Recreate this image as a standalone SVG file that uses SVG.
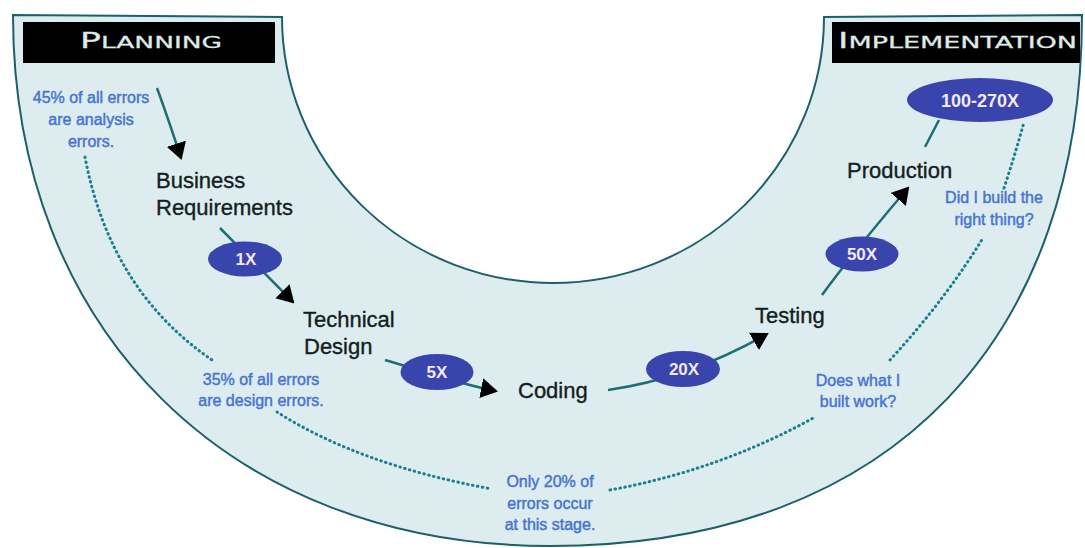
<svg xmlns="http://www.w3.org/2000/svg" width="1085" height="548" viewBox="0 0 1085 548">
  <defs>
    <marker id="arrow" viewBox="0 0 17 20" refX="15" refY="10" markerWidth="17" markerHeight="20" markerUnits="userSpaceOnUse" orient="auto">
      <path d="M0,0 L17,10 L0,20 Z" fill="#000"/>
    </marker>
    <style>
      .ring { fill: #ddedef; stroke: #1d5f6a; stroke-width: 2; }
      .hdr-box { fill: #000; }
      .hdr { font-family: "DejaVu Sans", sans-serif; fill: #e2ebe9; stroke: #cfe0de; stroke-width: 0.3; }
      .node { font-family: "Liberation Sans", Arial, sans-serif; font-size: 22px; fill: #142020; stroke: #142020; stroke-width: 0.35; }
      .note { font-family: "Liberation Sans", Arial, sans-serif; font-size: 16px; fill: #4874d0; stroke: #4874d0; stroke-width: 0.45; text-anchor: middle; }
      .badge ellipse { fill: #3a44ad; }
      .badge text { font-family: "Liberation Sans", Arial, sans-serif; font-weight: bold; font-size: 17px; fill: #f1eaf5; text-anchor: middle; }
      .link { fill: none; stroke: #1f6e76; stroke-width: 2.5; }
      .dots { fill: none; stroke: #1a7f92; stroke-width: 3; stroke-dasharray: 0.6 4.4; stroke-linecap: round; }
    </style>
  </defs>

  <!-- U-shaped band -->
  <path class="ring" d="M13,15 C13,330 230,546 550,546 C900,546 1082,330 1082,15 L824,17 A271,266 0 0 1 282,17 Z"/>

  <!-- phase headers -->
  <g id="planning">
    <rect class="hdr-box" x="23" y="22" width="252" height="41"/>
    <text class="hdr" x="80" y="48" textLength="142" lengthAdjust="spacingAndGlyphs"><tspan font-size="21">P</tspan><tspan font-size="16">LANNING</tspan></text>
  </g>
  <g id="implementation">
    <rect class="hdr-box" x="832" y="22" width="248" height="41"/>
    <text class="hdr" x="838" y="48" textLength="239" lengthAdjust="spacingAndGlyphs"><tspan font-size="21">I</tspan><tspan font-size="16">MPLEMENTATION</tspan></text>
  </g>

  <!-- dotted guides between the notes -->
  <g id="guides">
    <path class="dots" d="M85,157 Q110,290 212,360"/>
    <path class="dots" d="M277,412 Q360,465 492,489"/>
    <path class="dots" d="M610,490 Q720,470 815,417"/>
    <path class="dots" d="M890,360 Q945,300 983,238"/>
    <path class="dots" d="M1004,188 Q1015,155 1024,122"/>
  </g>

  <!-- flow connectors -->
  <g id="connectors">
    <path class="link" d="M157,88 Q168,118 181,158" marker-end="url(#arrow)"/>
    <path class="link" d="M220,228 L293,302" marker-end="url(#arrow)"/>
    <path class="link" d="M385,360 C420,370 455,383 496,391" marker-end="url(#arrow)"/>
    <path class="link" d="M608,390 Q690,378 767,334" marker-end="url(#arrow)"/>
    <path class="link" d="M822,295 Q855,250 908,188" marker-end="url(#arrow)"/>
    <path class="link" d="M925,147 L939,120"/>
  </g>

  <!-- stages -->
  <g id="business-requirements">
    <text class="node" x="156" y="188">Business</text>
    <text class="node" x="156" y="215">Requirements</text>
  </g>
  <g id="technical-design">
    <text class="node" x="303" y="327">Technical</text>
    <text class="node" x="304" y="354">Design</text>
  </g>
  <g id="coding">
    <text class="node" x="518" y="398">Coding</text>
  </g>
  <g id="testing">
    <text class="node" x="755" y="323">Testing</text>
  </g>
  <g id="production">
    <text class="node" x="847" y="178">Production</text>
  </g>

  <!-- cost multipliers -->
  <g id="cost-1x" class="badge">
    <ellipse cx="245" cy="259" rx="37" ry="17.5"/>
    <text x="246" y="265">1X</text>
  </g>
  <g id="cost-5x" class="badge">
    <ellipse cx="437" cy="372" rx="36.5" ry="18"/>
    <text x="437" y="378">5X</text>
  </g>
  <g id="cost-20x" class="badge">
    <ellipse cx="683" cy="369" rx="37" ry="18"/>
    <text x="684" y="375">20X</text>
  </g>
  <g id="cost-50x" class="badge">
    <ellipse cx="862" cy="254" rx="36.5" ry="17.5"/>
    <text x="862" y="260">50X</text>
  </g>
  <g id="cost-100-270x" class="badge">
    <ellipse cx="980" cy="100" rx="73" ry="22"/>
    <text x="980" y="107" style="font-size:18px">100-270X</text>
  </g>

  <!-- error notes -->
  <g id="note-analysis">
    <text class="note" x="91" y="103">45% of all errors</text>
    <text class="note" x="91" y="125">are analysis</text>
    <text class="note" x="91" y="147">errors.</text>
  </g>
  <g id="note-design">
    <text class="note" x="261" y="385">35% of all errors</text>
    <text class="note" x="261" y="406">are design errors.</text>
  </g>
  <g id="note-coding">
    <text class="note" x="550" y="487">Only 20% of</text>
    <text class="note" x="550" y="509">errors occur</text>
    <text class="note" x="550" y="530">at this stage.</text>
  </g>
  <g id="note-testing">
    <text class="note" x="858" y="386">Does what I</text>
    <text class="note" x="858" y="407">built work?</text>
  </g>
  <g id="note-production">
    <text class="note" x="994" y="203">Did I build the</text>
    <text class="note" x="994" y="225">right thing?</text>
  </g>
</svg>
